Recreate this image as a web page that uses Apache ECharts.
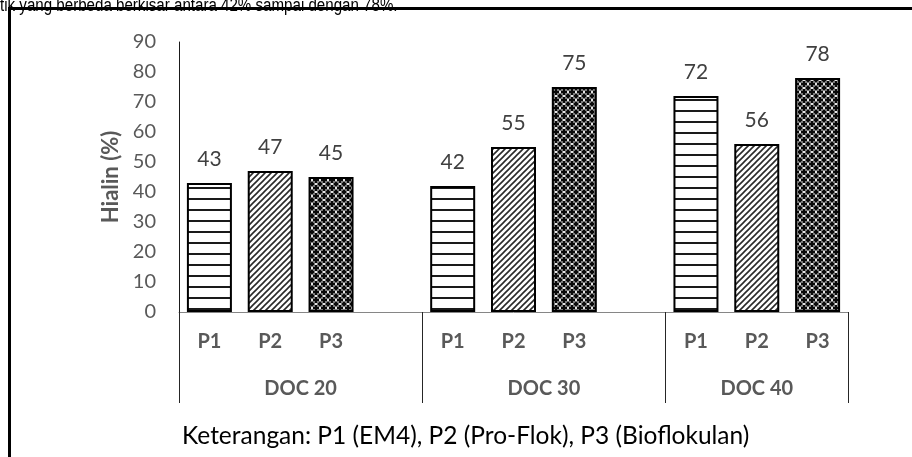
<!DOCTYPE html>
<html>
<head>
<meta charset="utf-8">
<script src="https://cdn.jsdelivr.net/npm/echarts@6/dist/echarts.min.js"></script>
<style>
  html, body { margin: 0; padding: 0; background: #fff; }
  #chart { width: 912px; height: 457px; }
</style>
</head>
<body>
<div id="chart"></div>
<script>
// data
var groups = ["DOC 20", "DOC 30", "DOC 40"];
var treatments = ["P1", "P2", "P3"];
var p1Values = [43, 42, 72];
var p2Values = [47, 55, 56];
var p3Values = [45, 75, 78];
var yTicks = [0, 10, 20, 30, 40, 50, 60, 70, 80, 90];

var seriesValues = [p1Values, p2Values, p3Values];

// categories: P1 P2 P3 + empty slot between groups
var categories = [];
var slotGroup = [];
var slotTreat = [];
groups.forEach(function (g, gi) {
  treatments.forEach(function (t, ti) {
    categories.push(t);
    slotGroup.push(gi);
    slotTreat.push(ti);
  });
  if (gi < groups.length - 1) {
    categories.push("");
    slotGroup.push(gi);
    slotTreat.push(-1);
  }
});

// group boundaries and centers in slot units
var bounds = [0];
var centers = [];
groups.forEach(function (g, gi) {
  var n = slotGroup.filter(function (s) { return s === gi; }).length;
  var start = bounds[bounds.length - 1];
  bounds.push(start + n);
  centers.push(start + n / 2);
});

// fill patterns
function makePattern(kind) {
  var c = document.createElement("canvas");
  var ctx = c.getContext("2d");
  if (kind === 0) {
    c.width = 8; c.height = 11;
    ctx.fillStyle = "#fff";
    ctx.fillRect(0, 0, 8, 11);
    ctx.fillStyle = "#1a1a1a";
    ctx.fillRect(0, 0, 8, 2);
  } else if (kind === 1) {
    c.width = 6; c.height = 6;
    ctx.fillStyle = "#fff";
    ctx.fillRect(0, 0, 6, 6);
    ctx.strokeStyle = "#2a2a2a";
    ctx.lineWidth = 1.6;
    ctx.beginPath();
    ctx.moveTo(-1, 7); ctx.lineTo(7, -1);
    ctx.moveTo(-4, 4); ctx.lineTo(4, -4);
    ctx.moveTo(2, 10); ctx.lineTo(10, 2);
    ctx.stroke();
  } else {
    c.width = 8; c.height = 8;
    ctx.fillStyle = "#7a7a7a";
    ctx.fillRect(0, 0, 8, 8);
    ctx.fillStyle = "#0a0a0a";
    // crosses at center and corners
    ctx.fillRect(3, 1, 2, 6);
    ctx.fillRect(1, 3, 6, 2);
    ctx.fillRect(0, 0, 2, 1);
    ctx.fillRect(0, 0, 1, 2);
    ctx.fillRect(6, 0, 2, 1);
    ctx.fillRect(7, 0, 1, 2);
    ctx.fillRect(0, 7, 2, 1);
    ctx.fillRect(0, 6, 1, 2);
    ctx.fillRect(6, 7, 2, 1);
    ctx.fillRect(7, 6, 1, 2);
    ctx.fillStyle = "#e6e6e6";
    ctx.fillRect(0, 3, 1, 2);
    ctx.fillRect(7, 3, 1, 2);
    ctx.fillRect(3, 0, 2, 1);
    ctx.fillRect(3, 7, 2, 1);
  }
  return { image: c, repeat: "repeat" };
}

var series = treatments.map(function (t, ti) {
  return {
    name: t,
    type: "bar",
    barWidth: 45,
    barGap: "-100%",
    data: categories.map(function (c, i) {
      return slotTreat[i] === ti ? seriesValues[ti][slotGroup[i]] : "-";
    }),
    itemStyle: {
      color: makePattern(ti),
      borderColor: "#000",
      borderWidth: 2
    },
    label: {
      show: true,
      position: "top",
      distance: 13,
      color: "#404040",
      fontFamily: "Lato",
      fontSize: 21
    },
    animation: false
  };
});

var myChart = echarts.init(document.getElementById("chart"));
myChart.setOption({
  animation: false,
  title: {
    text: "Keterangan: P1 (EM4), P2 (Pro-Flok), P3 (Bioflokulan)",
    left: 182,
    top: 424,
    padding: 0,
    textStyle: {
      color: "#000",
      fontFamily: "Lato",
      fontWeight: "normal",
      fontSize: 24.5
    }
  },
  grid: { left: 179, right: 64, top: 42, bottom: 145 },
  xAxis: [
    {
      type: "category",
      data: categories,
      axisLine: { show: true, lineStyle: { color: "#868686", width: 1 } },
      axisTick: { show: false },
      axisLabel: {
        interval: 0,
        margin: 20,
        color: "#595959",
        fontFamily: "Lato",
        fontWeight: "bold",
        fontSize: 20
      }
    },
    {
      type: "value",
      min: 0,
      max: categories.length,
      position: "bottom",
      axisLine: { show: false },
      splitLine: { show: false },
      axisTick: {
        show: true,
        length: 91,
        customValues: bounds,
        lineStyle: { color: "#262626", width: 1 }
      },
      axisLabel: {
        customValues: centers,
        margin: 67,
        color: "#595959",
        fontFamily: "Lato",
        fontWeight: "bold",
        fontSize: 20,
        formatter: function (v) {
          var k = centers.indexOf(v);
          return k >= 0 ? groups[k] : "";
        }
      }
    }
  ],
  yAxis: {
    type: "value",
    min: yTicks[0],
    max: yTicks[yTicks.length - 1],
    interval: 10,
    name: "Hialin (%)",
    nameLocation: "middle",
    nameGap: 56,
    nameTextStyle: {
      color: "#595959",
      fontFamily: "Lato",
      fontWeight: "bold",
      fontSize: 22
    },
    axisLine: { show: true, lineStyle: { color: "#1a1a1a", width: 1 } },
    axisTick: { show: false },
    splitLine: { show: false },
    axisLabel: {
      margin: 23,
      color: "#595959",
      fontFamily: "Lato",
      fontSize: 20
    }
  },
  series: series,
  graphic: [
    {
      type: "text",
      left: 0,
      top: -3,
      scaleX: 0.84,
      style: {
        text: "tik yang berbeda berkisar antara 42% sampai dengan 78%.",
        fill: "#000",
        font: "18px 'Liberation Sans'"
      },
      z: 10
    },
    {
      type: "rect",
      shape: { x: 8, y: 7, width: 912, height: 3 },
      style: { fill: "#000" },
      z: 11
    },
    {
      type: "rect",
      shape: { x: 8, y: 7, width: 3, height: 460 },
      style: { fill: "#000" },
      z: 11
    }
  ]
});
</script>
</body>
</html>
